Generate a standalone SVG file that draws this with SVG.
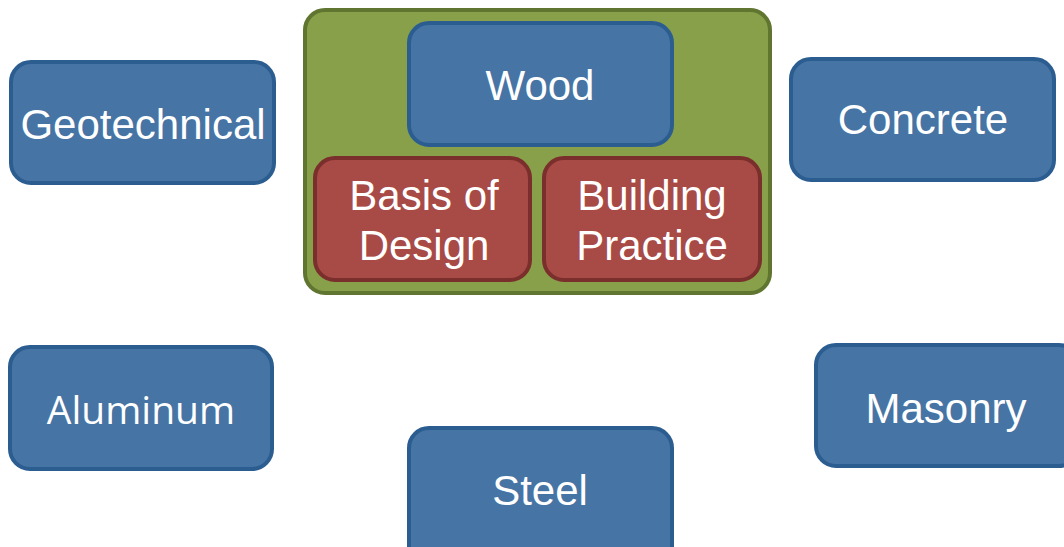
<svg xmlns="http://www.w3.org/2000/svg" width="1064" height="547" viewBox="0 0 1064 547">
<style>
.blue{fill:#4674A4;stroke:#2B5D91;stroke-width:4}
.red{fill:#A84A45;stroke:#7B2F2C;stroke-width:4}
.green{fill:#89A04B;stroke:#60752F;stroke-width:4}
text{font-family:"Liberation Sans",Arial,sans-serif;font-size:42px;fill:#FFFFFF;text-anchor:middle}
.seg{font-family:"Open Sans","Noto Sans",sans-serif;font-size:39px}
</style>
<rect width="1064" height="547" fill="#FFFFFF"/>
<g id="connectors"></g>
<g id="container">
<rect class="green" x="305" y="10" width="465" height="283" rx="20"/>
</g>
<g id="wood">
<rect class="blue" x="409" y="23" width="263" height="122" rx="20"/>
<text x="540" y="100">Wood</text>
</g>
<g id="basis">
<rect class="red" x="315" y="158" width="215" height="122" rx="20"/>
<text x="424" y="210">Basis of</text>
<text x="424" y="260">Design</text>
</g>
<g id="building">
<rect class="red" x="544" y="158" width="216" height="122" rx="20"/>
<text x="652" y="210">Building</text>
<text x="652" y="260">Practice</text>
</g>
<g id="geotechnical">
<rect class="blue" x="11" y="62" width="263" height="121" rx="20"/>
<text x="143" y="139">Geotechnical</text>
</g>
<g id="concrete">
<rect class="blue" x="791" y="59" width="263" height="121" rx="20"/>
<text x="923" y="134">Concrete</text>
</g>
<g id="aluminum">
<rect class="blue" x="10" y="347" width="262" height="122" rx="20"/>
<text class="seg" x="141" y="424">Aluminum</text>
</g>
<g id="steel">
<rect class="blue" x="409" y="428" width="263" height="140" rx="20"/>
<text x="540" y="505">Steel</text>
</g>
<g id="masonry">
<rect class="blue" x="816" y="345" width="263" height="121" rx="20"/>
<text x="946" y="423">Masonry</text>
</g>
</svg>
